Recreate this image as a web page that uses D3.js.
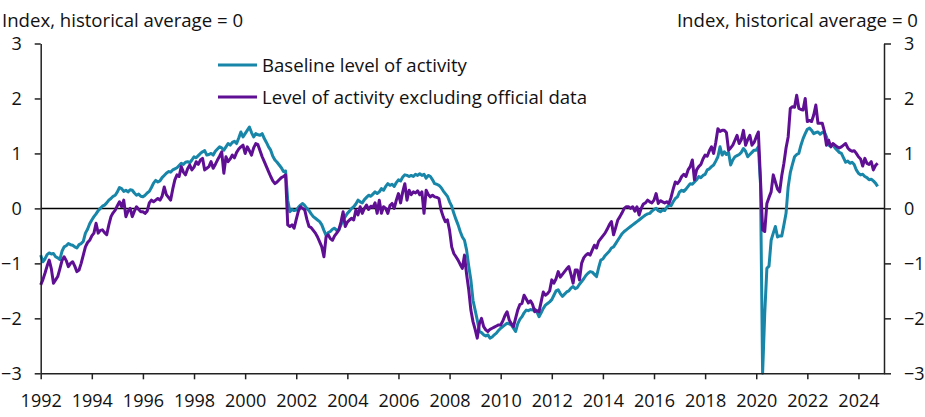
<!DOCTYPE html>
<html>
<head>
<meta charset="utf-8">
<script src="https://cdn.jsdelivr.net/npm/d3@7"></script>
<style>
  html, body { margin: 0; padding: 0; background: #fff; }
  svg { display: block; font-family: "Open Sans", sans-serif; }
</style>
</head>
<body>
<svg id="chart" width="925" height="417"></svg>
<script>
// ---- Data (monthly, starting January 1992) ----
const startYear = 1992;
const seriesNames = ["Baseline level of activity", "Level of activity excluding official data"];
const yTicks = [-3, -2, -1, 0, 1, 2, 3];
const xTicks = [1992, 1994, 1996, 1998, 2000, 2002, 2004, 2006, 2008, 2010, 2012, 2014, 2016, 2018, 2020, 2022, 2024];
const axisTitle = "Index, historical average = 0";

const baseline = [
  // 1992
  -0.85, -0.97, -0.92, -0.84, -0.81, -0.83, -0.82, -0.88, -0.90, -0.93, -0.78, -0.70,
  // 1993
  -0.68, -0.64, -0.66, -0.67, -0.70, -0.72, -0.66, -0.64, -0.60, -0.45, -0.38, -0.28,
  // 1994
  -0.21, -0.15, -0.10, -0.04, 0.00, 0.04, 0.06, 0.10, 0.15, 0.18, 0.22, 0.24,
  // 1995
  0.30, 0.38, 0.36, 0.31, 0.33, 0.30, 0.34, 0.33, 0.28, 0.24, 0.26, 0.22,
  // 1996
  0.21, 0.24, 0.28, 0.31, 0.38, 0.46, 0.51, 0.48, 0.50, 0.56, 0.60, 0.64,
  // 1997
  0.67, 0.66, 0.70, 0.72, 0.74, 0.78, 0.82, 0.80, 0.84, 0.85, 0.83, 0.88,
  // 1998
  0.94, 0.92, 0.96, 1.00, 1.03, 1.05, 0.97, 0.98, 1.00, 0.97, 1.04, 1.08,
  // 1999
  1.12, 1.10, 1.06, 1.12, 1.18, 1.15, 1.20, 1.22, 1.18, 1.28, 1.39, 1.30,
  // 2000
  1.36, 1.42, 1.48, 1.38, 1.30, 1.36, 1.34, 1.33, 1.36, 1.27, 1.20, 1.12,
  // 2001
  1.06, 0.95, 0.88, 0.84, 0.79, 0.74, 0.67, 0.68, 0.15, -0.06, -0.02, -0.04,
  // 2002
  -0.03, 0.02, 0.06, 0.09, 0.05, 0.00, -0.04, -0.10, -0.15, -0.18, -0.21, -0.24,
  // 2003
  -0.30, -0.40, -0.49, -0.44, -0.42, -0.38, -0.36, -0.40, -0.39, -0.30, -0.21, -0.15,
  // 2004
  -0.09, -0.05, 0.00, 0.03, 0.08, 0.15, 0.12, 0.10, 0.16, 0.20, 0.24, 0.22,
  // 2005
  0.26, 0.30, 0.27, 0.30, 0.36, 0.33, 0.40, 0.45, 0.42, 0.44, 0.40, 0.47,
  // 2006
  0.52, 0.50, 0.57, 0.61, 0.60, 0.58, 0.60, 0.58, 0.62, 0.60, 0.63, 0.60,
  // 2007
  0.62, 0.55, 0.60, 0.58, 0.52, 0.45, 0.44, 0.42, 0.38, 0.32, 0.27, 0.22,
  // 2008
  0.12, 0.04, -0.09, -0.20, -0.30, -0.42, -0.52, -0.58, -0.76, -1.05, -1.30, -1.67,
  // 2009
  -1.85, -2.03, -2.24, -2.26, -2.30, -2.32, -2.30, -2.36, -2.34, -2.30, -2.27, -2.22,
  // 2010
  -2.18, -2.15, -2.12, -2.09, -2.10, -2.12, -2.18, -2.24, -2.10, -2.02, -1.97, -1.90,
  // 2011
  -1.85, -1.86, -1.84, -1.85, -1.83, -1.88, -1.97, -1.90, -1.82, -1.76, -1.73, -1.70,
  // 2012
  -1.66, -1.58, -1.50, -1.48, -1.55, -1.60, -1.56, -1.52, -1.50, -1.45, -1.42, -1.46,
  // 2013
  -1.44, -1.38, -1.33, -1.28, -1.22, -1.18, -1.15, -1.16, -1.20, -1.24, -1.08, -0.94,
  // 2014
  -0.92, -0.86, -0.82, -0.78, -0.72, -0.70, -0.64, -0.58, -0.52, -0.46, -0.42, -0.39,
  // 2015
  -0.36, -0.33, -0.30, -0.27, -0.24, -0.21, -0.18, -0.15, -0.12, -0.10, -0.09, -0.05,
  // 2016
  -0.02, 0.00, -0.04, -0.06, -0.03, -0.04, 0.02, 0.06, 0.05, 0.12, 0.18, 0.21,
  // 2017
  0.30, 0.33, 0.31, 0.35, 0.40, 0.45, 0.44, 0.48, 0.52, 0.58, 0.56, 0.60,
  // 2018
  0.62, 0.70, 0.72, 0.76, 0.79, 0.86, 0.94, 1.12, 0.97, 1.03, 0.98, 1.02,
  // 2019
  0.79, 0.88, 0.94, 0.96, 0.98, 1.02, 1.09, 1.04, 0.94, 0.98, 1.02, 1.06,
  // 2020
  1.06, 1.12, 0.45, -3.00, -1.91, -1.09, -1.05, -0.58, -0.45, -0.33, -0.52, -0.50,
  // 2021
  -0.50, -0.30, -0.09, 0.39, 0.65, 0.80, 0.94, 0.98, 1.00, 1.15, 1.27, 1.36,
  // 2022
  1.44, 1.46, 1.42, 1.36, 1.38, 1.39, 1.35, 1.38, 1.39, 1.30, 1.15, 1.14,
  // 2023
  1.15, 1.10, 1.06, 1.02, 1.00, 0.92, 0.84, 0.86, 0.82, 0.84, 0.80, 0.70,
  // 2024
  0.64, 0.61, 0.62, 0.58, 0.56, 0.52, 0.53, 0.50, 0.46, 0.40
];

const excludingOfficial = [
  // 1992
  -1.39, -1.30, -1.18, -1.05, -0.94, -1.10, -1.36, -1.30, -1.24, -1.10, -0.95, -0.88,
  // 1993
  -0.95, -1.06, -1.00, -0.97, -1.05, -1.15, -1.12, -1.00, -0.85, -0.70, -0.62, -0.58,
  // 1994
  -0.50, -0.45, -0.27, -0.45, -0.40, -0.39, -0.44, -0.48, -0.30, -0.15, -0.08, -0.03,
  // 1995
  0.05, 0.12, 0.03, 0.15, -0.15, -0.05, 0.00, -0.15, -0.05, 0.03, -0.02, -0.06,
  // 1996
  -0.06, -0.09, -0.05, 0.10, 0.15, 0.12, 0.15, 0.18, 0.15, 0.22, 0.39, 0.25,
  // 1997
  0.20, 0.15, 0.35, 0.52, 0.61, 0.58, 0.76, 0.66, 0.61, 0.72, 0.79, 0.70,
  // 1998
  0.75, 0.85, 0.80, 0.88, 0.91, 0.70, 0.73, 0.76, 0.85, 0.73, 0.80, 0.88,
  // 1999
  0.95, 1.03, 0.64, 0.94, 0.85, 0.90, 0.97, 0.92, 1.02, 1.08, 1.12, 1.15,
  // 2000
  1.00, 1.12, 1.05, 0.97, 1.10, 1.18, 1.16, 1.05, 0.94, 0.85, 0.76, 0.67,
  // 2001
  0.58, 0.50, 0.45, 0.48, 0.52, 0.56, 0.58, 0.61, -0.30, -0.33, -0.30, -0.36,
  // 2002
  -0.20, -0.05, 0.03, 0.00, -0.03, -0.20, -0.33, -0.35, -0.40, -0.45, -0.52, -0.61,
  // 2003
  -0.70, -0.88, -0.52, -0.48, -0.55, -0.58, -0.50, -0.45, -0.39, -0.25, -0.06, -0.33,
  // 2004
  -0.25, -0.21, -0.18, -0.21, -0.03, -0.12, 0.03, -0.09, 0.00, 0.06, -0.02, 0.04,
  // 2005
  0.02, 0.10, -0.09, 0.15, -0.09, 0.03, 0.00, -0.09, 0.05, 0.09, 0.00, 0.15,
  // 2006
  0.27, 0.10, 0.30, 0.45, 0.15, 0.33, 0.25, 0.30, 0.28, 0.32, 0.25, 0.30,
  // 2007
  -0.09, 0.33, 0.25, 0.21, 0.24, 0.21, 0.20, 0.18, -0.03, -0.15, -0.24, -0.21,
  // 2008
  -0.40, -0.70, -0.82, -0.88, -0.94, -1.02, -1.09, -0.85, -1.20, -1.48, -1.85, -2.06,
  // 2009
  -2.20, -2.36, -2.10, -2.00, -2.15, -2.21, -2.24, -2.20, -2.18, -2.16, -2.14, -2.12,
  // 2010
  -2.12, -2.05, -1.95, -1.88, -2.03, -2.10, -2.15, -2.00, -1.85, -1.75, -1.73, -1.58,
  // 2011
  -1.65, -1.72, -1.68, -1.75, -1.88, -1.86, -1.88, -1.70, -1.52, -1.58, -1.55, -1.50,
  // 2012
  -1.30, -1.36, -1.28, -1.15, -1.25, -1.20, -1.15, -1.10, -1.06, -1.20, -1.36, -1.12,
  // 2013
  -1.12, -1.30, -1.00, -0.90, -0.85, -0.82, -0.85, -0.76, -0.67, -0.72, -0.60, -0.55,
  // 2014
  -0.50, -0.45, -0.38, -0.30, -0.24, -0.48, -0.35, -0.21, -0.15, -0.08, 0.00, 0.03,
  // 2015
  0.03, 0.00, 0.03, -0.05, 0.03, -0.12, 0.00, 0.08, 0.10, 0.15, 0.12, 0.10,
  // 2016
  0.15, 0.27, 0.09, 0.14, 0.12, 0.10, 0.12, 0.09, 0.20, 0.35, 0.48, 0.45,
  // 2017
  0.50, 0.58, 0.62, 0.58, 0.70, 0.76, 0.88, 0.52, 0.70, 0.76, 0.80, 0.90,
  // 2018
  0.97, 0.95, 1.05, 1.12, 1.00, 1.20, 1.45, 1.40, 1.42, 1.42, 1.38, 1.06,
  // 2019
  1.10, 1.15, 1.24, 1.33, 1.18, 1.25, 1.42, 1.15, 1.25, 1.33, 1.15, 1.20,
  // 2020
  1.30, 1.39, 0.52, -0.39, -0.42, 0.09, 0.20, 0.30, 0.61, 0.48, 0.35, 0.30,
  // 2021
  0.60, 0.82, 1.10, 1.30, 1.82, 1.85, 1.84, 2.06, 1.82, 1.80, 1.79, 2.00,
  // 2022
  1.58, 1.60, 1.58, 1.70, 1.88, 1.55, 1.55, 1.55, 1.40, 1.15, 1.24, 1.12,
  // 2023
  1.18, 1.15, 1.12, 1.10, 1.12, 1.15, 1.18, 1.10, 1.06, 1.04, 1.05, 1.00,
  // 2024
  0.94, 0.90, 0.77, 0.91, 0.82, 0.80, 0.85, 0.70, 0.78, 0.82
];

const colors = ["#1786a8", "#5f0f93"];

// ---- Layout ----
const svg = d3.select("#chart");
const plotLeft = 40.7, plotRight = 884, plotTop = 43.5, plotBottom = 373.3;

const x = d3.scaleLinear().domain([1992, 2025]).range([plotLeft, plotRight]);
const y = d3.scaleLinear().domain([-3, 3]).range([plotBottom, plotTop]);

const toPoints = arr => arr.map((v, i) => ({ t: startYear + i / 12, v }));
const series = [toPoints(baseline), toPoints(excludingOfficial)];

const line = d3.line().x(d => x(d.t)).y(d => y(d.v));

// zero line
svg.append("line")
  .attr("x1", plotLeft).attr("x2", plotRight)
  .attr("y1", y(0)).attr("y2", y(0))
  .attr("stroke", "#000").attr("stroke-width", 1.5);

// lines: baseline first, purple on top
svg.append("path").datum(series[0])
  .attr("fill", "none").attr("stroke", colors[0])
  .attr("stroke-width", 3).attr("stroke-linejoin", "round")
  .attr("d", line);
svg.append("path").datum(series[1])
  .attr("fill", "none").attr("stroke", colors[1])
  .attr("stroke-width", 3).attr("stroke-linejoin", "round")
  .attr("d", line);

// axes
const fontSize = 18;
const labelFontSize = 18.6;
const styleAxis = g => {
  g.select(".domain").attr("stroke", "#222").attr("stroke-width", 1.5);
  g.selectAll(".tick line").attr("stroke", "#222").attr("stroke-width", 1.5);
  g.selectAll(".tick text").attr("fill", "#111")
    .style("font-family", '"Open Sans", sans-serif').style("font-size", fontSize + "px");
};

svg.append("g").attr("transform", `translate(${plotLeft},0)`)
  .call(d3.axisLeft(y).tickValues(yTicks).tickFormat(d3.format("d")).tickSize(6).tickSizeOuter(0).tickPadding(13))
  .call(styleAxis);

svg.append("g").attr("transform", `translate(${plotRight},0)`)
  .call(d3.axisRight(y).tickValues(yTicks).tickFormat(d3.format("d")).tickSize(7).tickSizeOuter(0).tickPadding(13))
  .call(styleAxis);

svg.append("g").attr("transform", `translate(0,${plotBottom})`)
  .call(d3.axisBottom(x).tickValues(xTicks).tickFormat(d3.format("d")).tickSize(6).tickSizeOuter(0).tickPadding(15))
  .call(styleAxis);

// axis titles
svg.append("text").attr("x", 2).attr("y", 27)
  .style("font-size", labelFontSize + "px").attr("fill", "#111")
  .text(axisTitle);
svg.append("text").attr("x", 918).attr("y", 27).attr("text-anchor", "end")
  .style("font-size", labelFontSize + "px").attr("fill", "#111")
  .text(axisTitle);

// legend
const legendY = [65, 97];
seriesNames.forEach((name, i) => {
  svg.append("line")
    .attr("x1", 218).attr("x2", 257)
    .attr("y1", legendY[i]).attr("y2", legendY[i])
    .attr("stroke", colors[i]).attr("stroke-width", 3);
  svg.append("text")
    .attr("x", 262).attr("y", legendY[i]).attr("dy", "0.35em")
    .style("font-size", labelFontSize + "px").attr("fill", "#111")
    .text(name);
});
</script>
</body>
</html>
